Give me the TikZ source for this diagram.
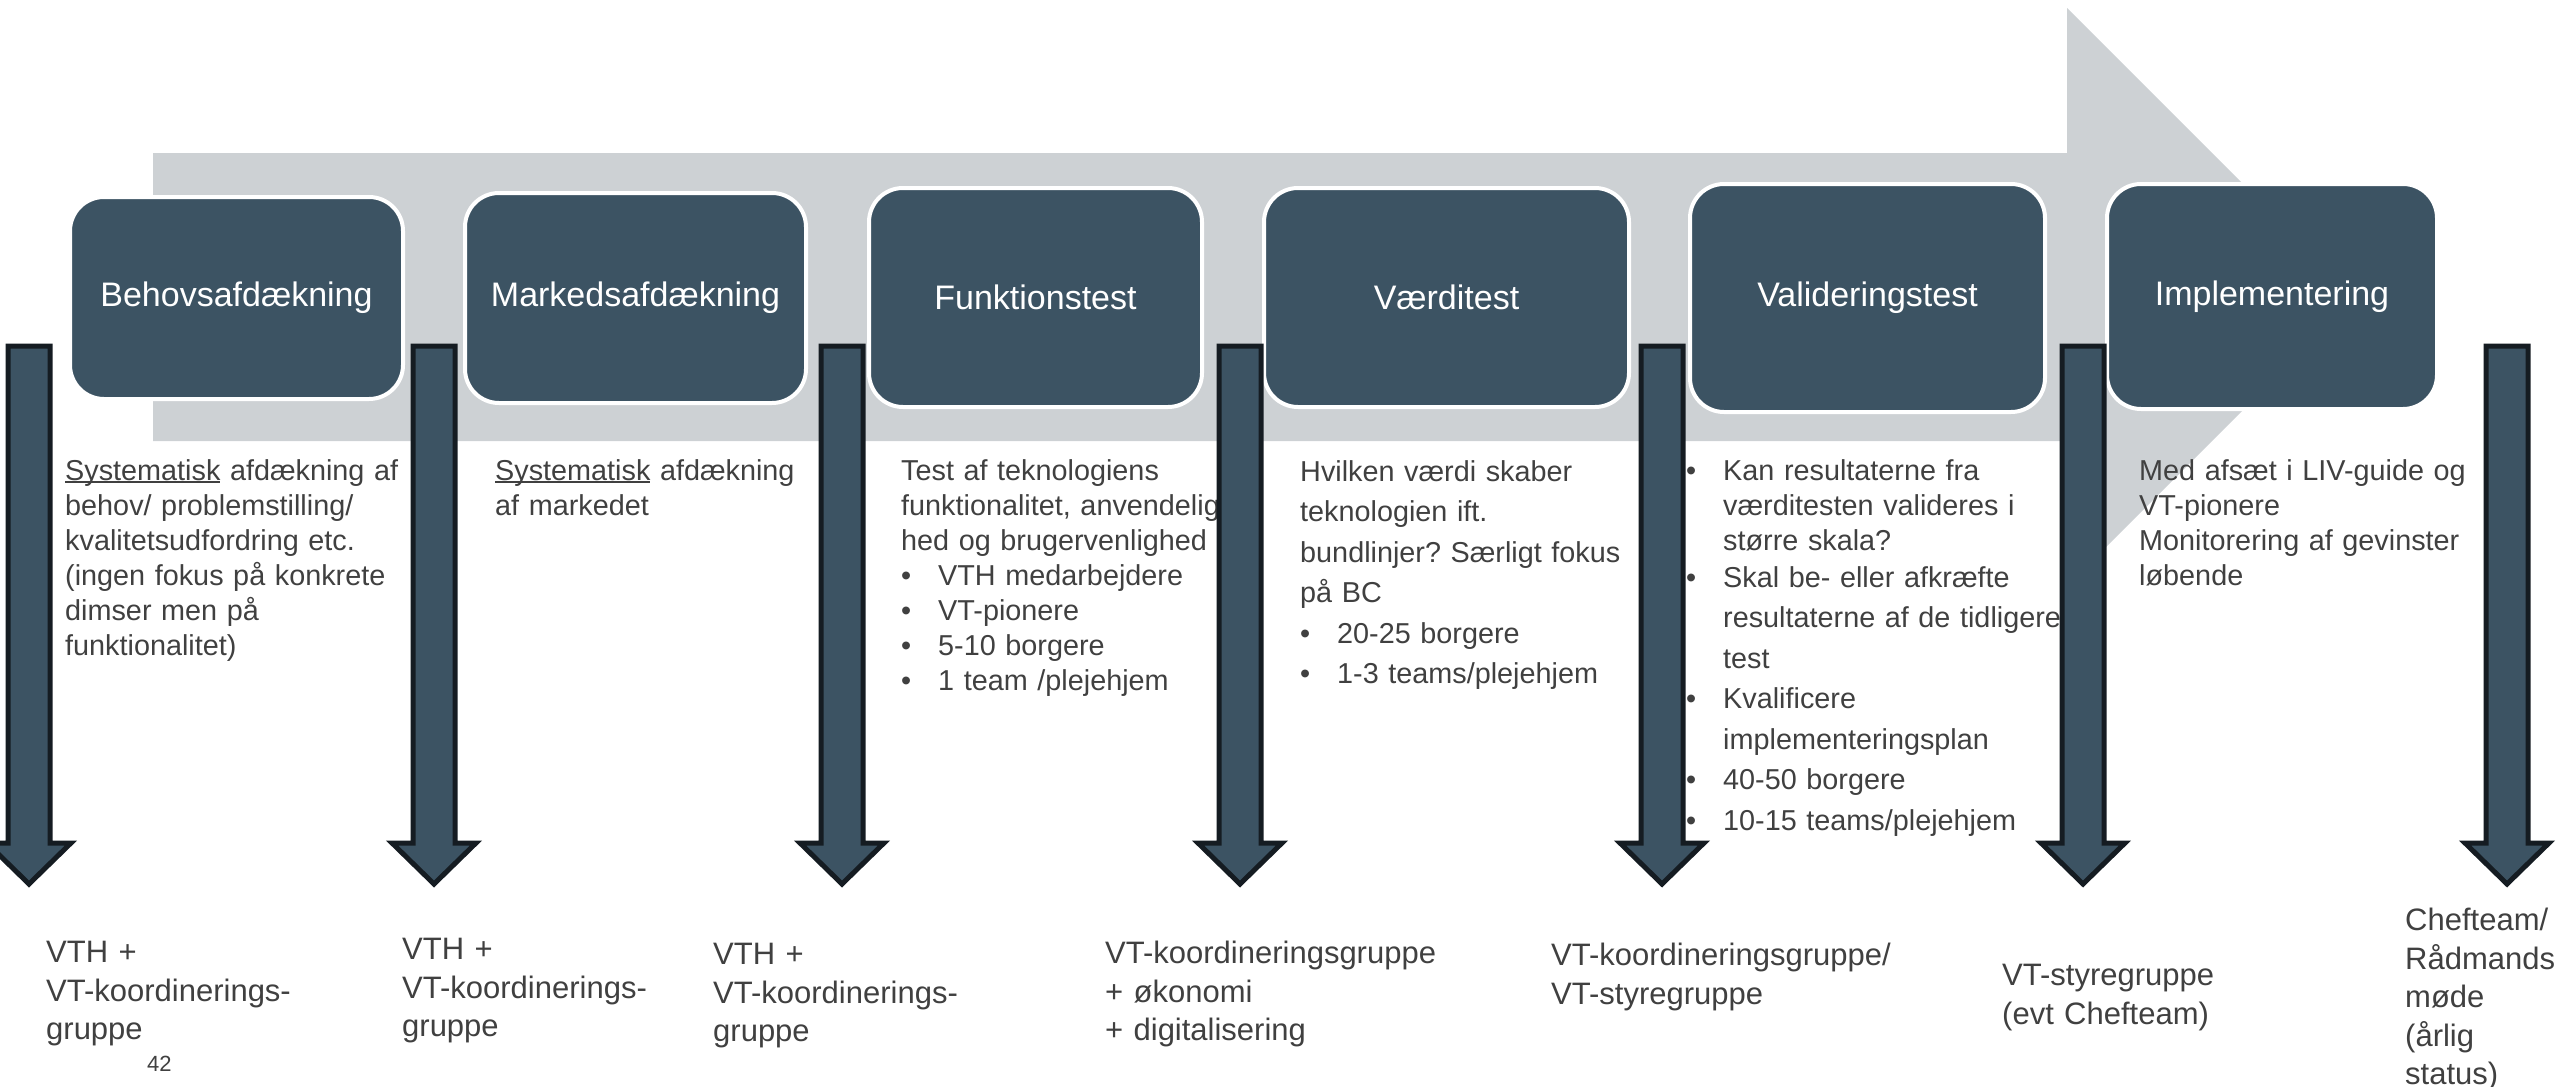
\documentclass[tikz,border=0pt]{standalone}
\usepackage{fontspec}
\setmainfont{Liberation Sans}
\frenchspacing
\definecolor{slate}{HTML}{3C5363}
\definecolor{graybar}{HTML}{CDD1D4}
\definecolor{edgedark}{HTML}{151C22}
\definecolor{txt}{HTML}{404040}
\newcommand{\undl}[1]{\setbox0\hbox{#1}\rlap{\rule[-2.5pt]{\wd0}{1.4pt}}\box0\relax}
\newcommand{\bulit}{\makebox[37pt][l]{•}}
\newcommand{\contl}{\hspace*{37pt}}
\tikzset{
  phase/.style={draw=white, line width=4pt, fill=slate, rounded corners=34pt,
    text=white, font=\fontsize{34}{40}\selectfont, inner sep=0pt},
  desc/.style={anchor=north west, align=left, text=txt, inner sep=0pt,
    text width=430pt, font=\fontsize{28.8}{35}\selectfont},
  who/.style={anchor=north west, align=left, text=txt, inner sep=0pt,
    text width=440pt, font=\fontsize{31}{38.5}\selectfont},
  dnarrow/.style={fill=slate, draw=edgedark, line width=5pt, line join=miter}
}
\begin{document}
\begin{tikzpicture}[x=1pt,y=-1pt]
\useasboundingbox (0,0) rectangle (2560,1087);
\clip (0,0) rectangle (2560,1087);
% big grey process arrow
\fill[graybar] (153,153) -- (2067,153) -- (2067,8) -- (2356,297) -- (2067,586) -- (2067,441) -- (153,441) -- cycle;
% phase boxes
\node[phase, minimum width=333pt, minimum height=202pt] (p1) at (236.5,298) {Behovsafdækning};
\node[phase, minimum width=341pt, minimum height=210pt] (p2) at (635.5,298) {Markedsafdækning};
\node[phase, minimum width=333pt, minimum height=219pt] (p3) at (1035.5,297.5) {Funktionstest};
\node[phase, minimum width=365pt, minimum height=219pt] (p4) at (1446.5,297.5) {Værditest};
\node[phase, minimum width=355pt, minimum height=228pt] (p5) at (1867.5,298) {Valideringstest};
\node[phase, minimum width=330pt, minimum height=225pt] (p6) at (2272,296.5) {Implementering};
% descriptions
\node[desc] (d1) at (65,459) {\undl{Systematisk} afdækning af\\behov/ problemstilling/\\kvalitetsudfordring etc.\\(ingen fokus på konkrete\\dimser men på\\funktionalitet)};
\node[desc] (d2) at (495,459) {\undl{Systematisk} afdækning\\af markedet};
\node[desc] (d3) at (901,459) {Test af teknologiens\\funktionalitet, anvendelig\\hed og brugervenlighed\\\bulit VTH medarbejdere\\\bulit VT-pionere\\\bulit 5-10 borgere\\\bulit 1 team /plejehjem};
\node[desc, font=\fontsize{28.8}{40.5}\selectfont] (d4) at (1300,460) {Hvilken værdi skaber\\teknologien ift.\\bundlinjer? Særligt fokus\\på BC\\\bulit 20-25 borgere\\\bulit 1-3 teams/plejehjem};
\node[desc, font=\fontsize{28.8}{40.5}\selectfont] (d5) at (1686,459) {\bulit Kan resultaterne fra\\[-5.5pt]\contl værditesten valideres i\\[-5.5pt]\contl større skala?\\[-3.5pt]\bulit Skal be- eller afkræfte\\\contl resultaterne af de tidligere\\\contl test\\\bulit Kvalificere\\\contl implementeringsplan\\\bulit 40-50 borgere\\\bulit 10-15 teams/plejehjem};
\node[desc] (d6) at (2139,459) {Med afsæt i LIV-guide og\\VT-pionere\\Monitorering af gevinster\\løbende};
% responsible groups
\node[who] (b1) at (46,941) {VTH +\\VT-koordinerings-\\gruppe};
\node[who] (b2) at (402,938) {VTH +\\VT-koordinerings-\\gruppe};
\node[who] (b3) at (713,943) {VTH +\\VT-koordinerings-\\gruppe};
\node[who] (b4) at (1105,941) {VT-koordineringsgruppe\\+ økonomi\\+ digitalisering};
\node[who] (b5) at (1551,943) {VT-koordineringsgruppe/\\VT-styregruppe};
\node[who] (b6) at (2002,964) {VT-styregruppe\\(evt Chefteam)};
\node[who, text width=160pt] (b7) at (2405,908) {Chefteam/\\Rådmands\\møde\\(årlig\\status)};
\node[anchor=west, text=txt, inner sep=0pt, font=\fontsize{22}{26}\selectfont] (pg) at (147,1064) {42};
% downward arrows
\foreach \cx in {29,434,842,1240,1662,2083,2507} {
  \draw[dnarrow] ({\cx-21},346) -- ({\cx+21},346) -- ({\cx+21},843) -- ({\cx+42},843) -- (\cx,884) -- ({\cx-42},843) -- ({\cx-21},843) -- cycle;
}
\end{tikzpicture}
\end{document}
